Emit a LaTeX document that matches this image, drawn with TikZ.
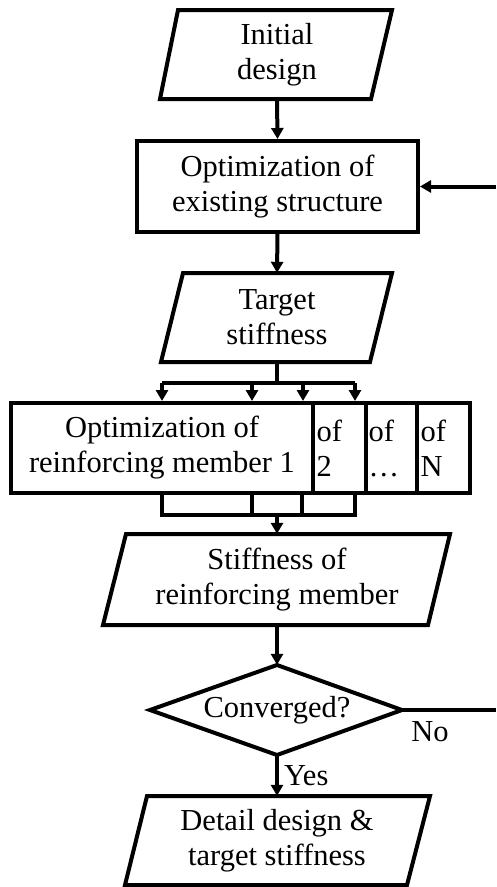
\documentclass[tikz,border=0pt]{standalone}
\usepackage{fontspec}
\setmainfont{Liberation Serif}
\usetikzlibrary{arrows.meta,shapes.geometric}
\begin{document}
\begin{tikzpicture}[x=1pt,y=-1pt,
  ln/.style={line width=4pt,line join=miter},
  arr/.style={ln,-{Triangle[length=11pt,width=12pt]}},
  txt/.style={font=\fontsize{30.5}{35}\selectfont,align=center,inner sep=0pt},
  hold/.style={txt,rectangle,draw=none},
  boxx/.style={txt,rectangle,draw,ln},
  cell/.style={boxx,minimum height=90pt,text width=46pt,align=left},
  lab/.style={font=\fontsize{30.5}{35}\selectfont,inner sep=0pt}]
\useasboundingbox (0,0) rectangle (496,887);
% Initial design
\draw[ln] (178,10) -- (392,10) -- (371,99) -- (160,99) -- cycle;
\node[hold,minimum width=200pt,minimum height=89pt] (init) at (277,54.5) {Initial\\design};
% Optimization of existing structure
\node[boxx,minimum width=281pt,minimum height=91pt] (opt) at (277.5,186.5) {Optimization of\\existing structure};
% Target stiffness
\draw[ln] (183,273) -- (392,273) -- (370,362) -- (161,362) -- cycle;
\node[hold,minimum width=200pt,minimum height=89pt] (tgt) at (277,317.5) {Target\\stiffness};
% Reinforcing member optimisations
\node[boxx,minimum width=302pt,minimum height=90pt] (m1) at (162,448) {Optimization of\\reinforcing member 1};
\node[cell,minimum width=53pt] (m2) at (339.5,448) {of\\2};
\node[cell,minimum width=51pt] (m3) at (391.5,448) {of\\\dots};
\node[cell,minimum width=53pt] (m4) at (443.5,448) {of\\N};
% Stiffness of reinforcing member
\draw[ln] (126,534) -- (450,534) -- (428,625) -- (103,625) -- cycle;
\node[hold,minimum width=300pt,minimum height=91pt] (stf) at (277,579.5) {Stiffness of\\reinforcing member};
% Converged?
\draw[ln] (277,665) -- (402,710) -- (277,755) -- (150,710) -- cycle;
\node[hold,minimum width=252pt,minimum height=90pt] (conv) at (277,710) {Converged?};
% Detail design
\draw[ln] (147,796) -- (430,796) -- (407,885) -- (125,885) -- cycle;
\node[hold,minimum width=260pt,minimum height=89pt] (det) at (277,840.5) {Detail design \&\\target stiffness};
% connectors
\draw[arr] (init.south) -- (opt.north);
\draw[arr] (opt.south) -- (tgt.north);
\coordinate (s1) at (162,383);
\coordinate (s2) at (252,383);
\coordinate (s3) at (303,383);
\coordinate (s4) at (355,383);
\coordinate (sm) at (277,383);
\draw[ln] (tgt.south) -- (sm);
\draw[ln] (s1) -- (s4);
\draw[arr] (s1) -- (m1.north);
\draw[arr] (s2) -- (s2 |- m1.north);
\draw[arr] (s3) -- (s3 |- m1.north);
\draw[arr] (s4) -- (s4 |- m1.north);
\coordinate (j1) at (162,515);
\coordinate (j2) at (252,515);
\coordinate (j3) at (302,515);
\coordinate (j4) at (355,515);
\coordinate (jm) at (277,515);
\draw[ln] (m1.south) -- (j1) -- (j4) -- (j4 |- m1.south);
\draw[ln] (j2 |- m1.south) -- (j2);
\draw[ln] (j3 |- m1.south) -- (j3);
\draw[arr] (jm) -- (stf.north);
\draw[arr] (stf.south) -- (conv.north);
\draw[arr] (conv.south) -- node[lab,anchor=west,xshift=5pt,pos=0.5] (yes) {Yes} (det.north);
\coordinate (noend) at (496,710);
\coordinate (fbin) at (496,186.5);
\draw[ln] (conv.east) -- (noend);
\node[lab] (no) at (430,732) {No};
\draw[arr] (fbin) -- (opt.east);
\end{tikzpicture}
\end{document}
